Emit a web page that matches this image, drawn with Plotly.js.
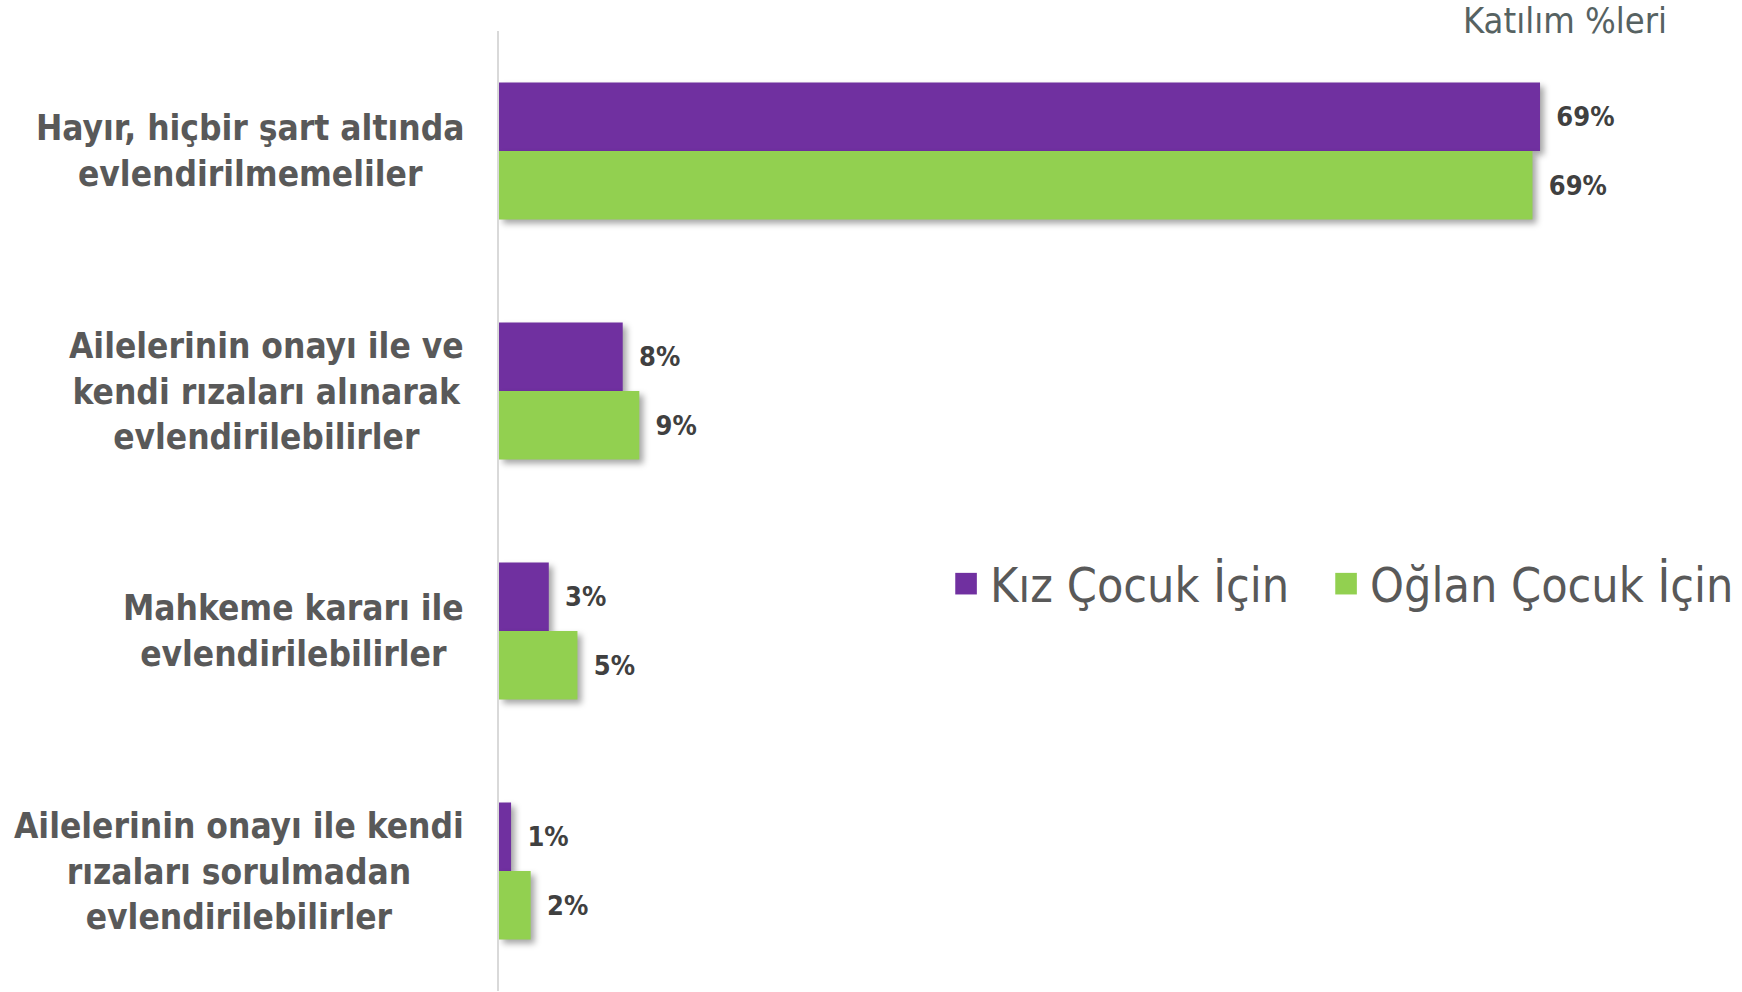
<!DOCTYPE html>
<html>
<head>
<meta charset="utf-8">
<script src="https://cdn.plot.ly/plotly-3.0.1.min.js"></script>
<style>
  html, body { margin: 0; padding: 0; background: #fff; }
  #chart { width: 1742px; height: 992px; }
  .barlayer .point path { filter: drop-shadow(4px 4px 3px rgba(0,0,0,0.35)); }
</style>
</head>
<body>
<div id="chart"></div>
<script>
const categories = [
  "Hayır, hiçbir şart altında<br>evlendirilmemeliler",
  "Ailelerinin onayı ile ve<br>kendi rızaları alınarak<br>evlendirilebilirler",
  "Mahkeme kararı ile<br>evlendirilebilirler",
  "Ailelerinin onayı ile kendi<br>rızaları sorulmadan<br>evlendirilebilirler"
];
const seriesNames = ["Kız Çocuk İçin", "Oğlan Çocuk İçin"];
const kizValues = [69.0, 8.2, 3.3, 0.8];
const oglanValues = [68.5, 9.3, 5.2, 2.1];
const titleText = "Katılım %leri";

const FONT = "'DejaVu Sans Condensed', 'DejaVu Sans', sans-serif";
const labelFont = {family: FONT, size: 27, color: "#404040", weight: "bold"};

const traces = [
  {
    type: "bar", orientation: "h", name: seriesNames[0],
    y: categories, x: kizValues,
    marker: {color: "#7030a0"},
    texttemplate: "\u00a0\u2009%{x:.0f}%", textposition: "outside",
    constraintext: "none", cliponaxis: false,
    textfont: labelFont, hoverinfo: "x+name"
  },
  {
    type: "bar", orientation: "h", name: seriesNames[1],
    y: categories, x: oglanValues,
    marker: {color: "#92d050"},
    texttemplate: "\u00a0\u2009%{x:.0f}%", textposition: "outside",
    constraintext: "none", cliponaxis: false,
    textfont: labelFont, hoverinfo: "x+name"
  }
];

const annotations = categories.map(c => ({
  xref: "paper", yref: "y", x: 0, y: c,
  xanchor: "right", yanchor: "middle", xshift: -33,
  align: "center", showarrow: false, text: c,
  font: {family: FONT, size: 35, color: "#595959", weight: "bold"}
}));
annotations.push({
  xref: "paper", yref: "paper", x: 1, y: 1,
  xanchor: "right", yanchor: "middle", xshift: -37, yshift: 11,
  showarrow: false, text: titleText,
  font: {family: FONT, size: 36, color: "#566262"}
});

const layout = {
  width: 1742, height: 992,
  margin: {l: 499, r: 36, t: 31, b: 1},
  paper_bgcolor: "#ffffff", plot_bgcolor: "#ffffff",
  barmode: "group", bargap: 0.43, bargroupgap: 0,
  showlegend: true,
  legend: {
    orientation: "h", x: 0.3737, y: 0.424, xanchor: "left", yanchor: "middle",
    font: {family: FONT, size: 48, color: "#595959"},
    bgcolor: "rgba(0,0,0,0)", traceorder: "normal",
    entrywidth: 335, entrywidthmode: "pixels"
  },
  xaxis: {
    range: [0, 80], showgrid: false, zeroline: false, showline: false,
    showticklabels: false, ticks: "", fixedrange: true
  },
  yaxis: {
    type: "category", autorange: "reversed", showgrid: false, zeroline: false,
    showline: true, linecolor: "#d9d9d9", linewidth: 2,
    showticklabels: false, ticks: "", fixedrange: true
  },
  annotations: annotations
};

Plotly.newPlot("chart", traces, layout, {displayModeBar: false, staticPlot: true}).then(gd => {
  gd.querySelectorAll(".legend .legendpoints path").forEach(p => {
    const t = p.getAttribute("transform") || "";
    p.setAttribute("transform", (t + " translate(-4,0) scale(1.8)").trim());
  });
  gd.querySelectorAll(".legend [clip-path]").forEach(e => e.removeAttribute("clip-path"));
});
</script>
</body>
</html>
